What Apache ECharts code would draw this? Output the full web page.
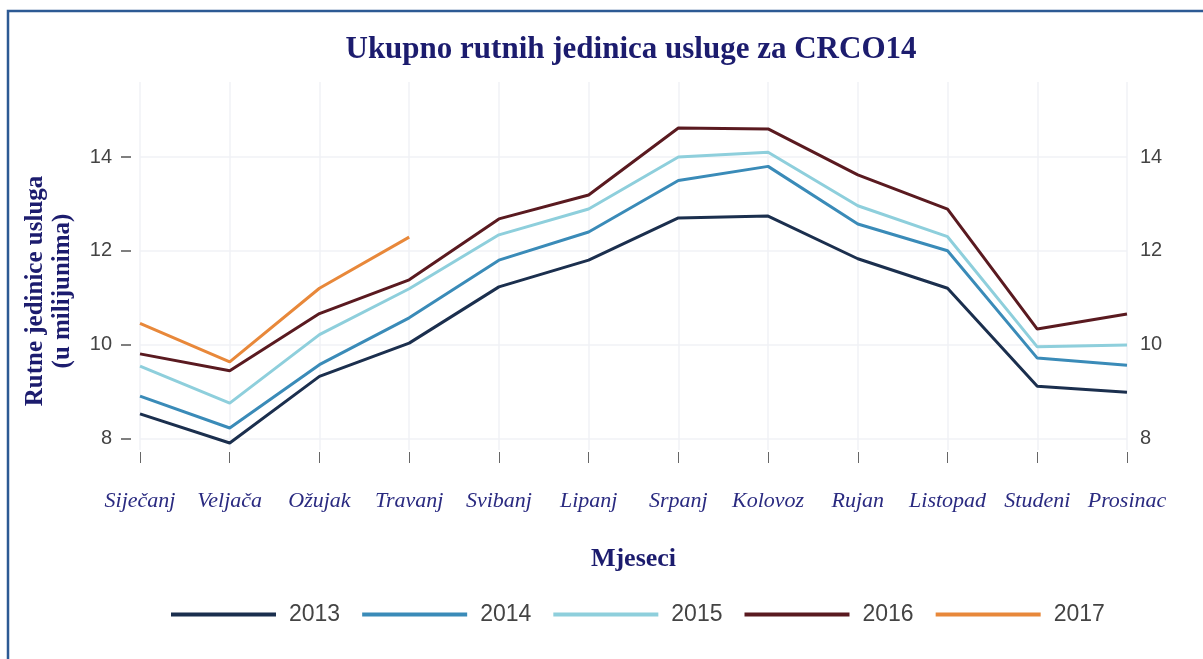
<!DOCTYPE html>
<html>
<head>
<meta charset="utf-8">
<script src="https://cdn.jsdelivr.net/npm/echarts@6/dist/echarts.min.js"></script>
<style>
  html, body { margin: 0; padding: 0; background: #fff; }
  #chart { width: 1203px; height: 659px; }
</style>
</head>
<body>
<div id="chart"></div>
<script>
const months = ['Siječanj', 'Veljača', 'Ožujak', 'Travanj', 'Svibanj', 'Lipanj',
  'Srpanj', 'Kolovoz', 'Rujan', 'Listopad', 'Studeni', 'Prosinac'];
const yTicks = [8, 10, 12, 14];

const y2013 = [8.52, 7.9, 9.32, 10.03, 11.23, 11.8, 12.7, 12.74, 11.83, 11.2, 9.11, 8.98];
const y2014 = [8.9, 8.22, 9.57, 10.57, 11.8, 12.4, 13.5, 13.8, 12.57, 12.0, 9.71, 9.56];
const y2015 = [9.54, 8.75, 10.21, 11.19, 12.34, 12.89, 14.0, 14.1, 12.96, 12.3, 9.95, 9.99];
const y2016 = [9.8, 9.44, 10.66, 11.38, 12.68, 13.19, 14.62, 14.6, 13.62, 12.89, 10.33, 10.65];
const y2017 = [10.45, 9.63, 11.2, 12.29];

const navy = '#1c1c6e';
const chart = echarts.init(document.getElementById('chart'));

function line(name, data, color) {
  return {
    name: name,
    type: 'line',
    data: data,
    symbol: 'none',
    lineStyle: { width: 3, color: color },
    itemStyle: { color: color }
  };
}

const yBase = {
  type: 'value',
  min: 7.75,
  max: 15.6,
  axisLine: { show: false },
  axisLabel: { customValues: yTicks, color: '#444', fontSize: 20, fontFamily: 'Liberation Sans, Arial' },
  axisTick: { customValues: yTicks }
};

chart.setOption({
  animation: false,
  title: {
    text: 'Ukupno rutnih jedinica usluge za CRCO14',
    left: 626,
    top: 29,
    textAlign: 'center',
    textStyle: { fontFamily: 'Liberation Serif, Times New Roman', fontWeight: 'bold', fontSize: 31, color: navy }
  },
  graphic: [
    {
      type: 'rect',
      shape: { x: 8, y: 11, width: 1400, height: 800 },
      style: { fill: 'none', stroke: '#2d5a94', lineWidth: 2.5 },
      silent: true
    },
    {
      type: 'text',
      x: 49,
      y: 291,
      rotation: Math.PI / 2,
      style: {
        text: 'Rutne jedinice usluga\n(u milijunima)',
        fontFamily: 'Liberation Serif, Times New Roman',
        fontWeight: 'bold',
        fontSize: 25,
        lineHeight: 27,
        fill: navy,
        align: 'center',
        verticalAlign: 'middle'
      }
    }
  ],
  legend: {
    left: 166,
    top: 598,
    itemWidth: 105,
    itemHeight: 4,
    itemGap: 22,
    icon: 'rect',
    textStyle: { fontSize: 23, color: '#444', fontFamily: 'Liberation Sans, Arial', padding: [0, 0, 0, 8] },
    data: ['2013', '2014', '2015', '2016', '2017']
  },
  grid: { left: 140, right: 76, top: 82, bottom: 209 },
  xAxis: {
    type: 'category',
    data: months,
    boundaryGap: false,
    offset: 2,
    axisLine: { show: false },
    axisTick: { show: true, length: 11, lineStyle: { color: '#666' } },
    axisLabel: {
      margin: 38,
      fontSize: 22,
      fontStyle: 'italic',
      fontFamily: 'Liberation Serif, Times New Roman',
      color: '#2a2a80',
      interval: 0
    },
    splitLine: { show: true, lineStyle: { color: '#f0f2f6', width: 1.5 } },
    name: 'Mjeseci',
    nameLocation: 'middle',
    nameGap: 94,
    nameTextStyle: { fontFamily: 'Liberation Serif, Times New Roman', fontWeight: 'bold', fontSize: 26, color: navy }
  },
  yAxis: [
    Object.assign({}, yBase, {
      position: 'left',
      offset: 9,
      axisTick: { customValues: yTicks, show: true, length: 10, lineStyle: { color: '#555', width: 1.5 } },
      axisLabel: Object.assign({}, yBase.axisLabel, { margin: 19 }),
      splitLine: { show: true, lineStyle: { color: '#f0f2f6', width: 1.5 } }
    }),
    Object.assign({}, yBase, {
      position: 'right',
      axisTick: { customValues: yTicks, show: false },
      axisLabel: Object.assign({}, yBase.axisLabel, { margin: 13 }),
      splitLine: { show: false }
    })
  ],
  series: [
    line('2013', y2013, '#1b2f4e'),
    line('2014', y2014, '#3a8bb8'),
    line('2015', y2015, '#8ecfdc'),
    line('2016', y2016, '#5a1a20'),
    line('2017', y2017, '#e8883a')
  ]
});
</script>
</body>
</html>
